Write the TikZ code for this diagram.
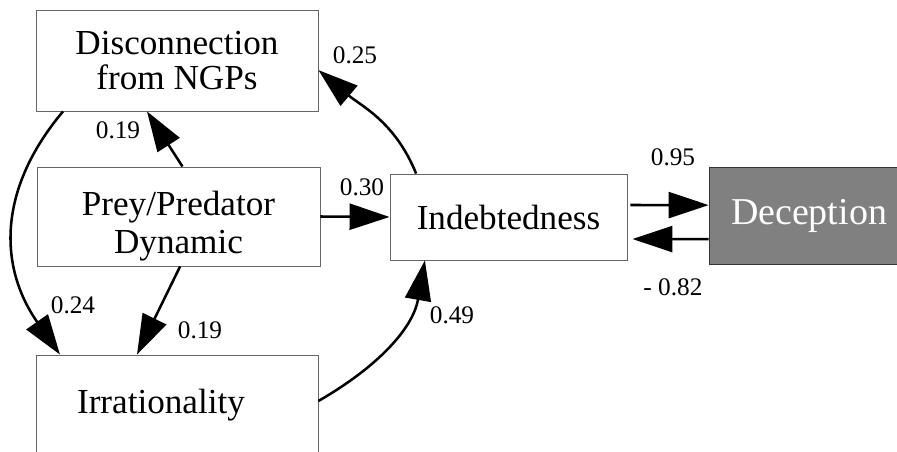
\documentclass[tikz,border=0pt]{standalone}
\usepackage{fontspec}
\setmainfont{Liberation Serif}
\usetikzlibrary{arrows.meta,positioning,calc}

\begin{document}
\begin{tikzpicture}[
    box/.style={draw=black!60,line width=0.6pt,inner sep=0pt,align=center,font=\fontsize{25}{25}\selectfont},
    arr/.style={-{Triangle[length=10mm,width=6.5mm]},line width=1.8pt},
    lbl/.style={inner sep=0pt,font=\fontsize{18}{18}\selectfont}
]
    \clip (0,0) rectangle (22.425,11.275);
    % boxes
    \node[box,minimum width=7.05cm,minimum height=2.525cm] (disc) at (4.425,9.7625) {Disconnection\\from NGPs};
    \node[box,font=\fontsize{25}{27}\selectfont,minimum width=7.075cm,minimum height=2.475cm] (prey) at (4.4625,5.8625) {\raisebox{0pt}[\dimexpr\height+5mm]{\begin{tabular}{@{}c@{}}Prey/Predator\\Dynamic\end{tabular}}};
    \node[box,minimum width=7.05cm,minimum height=2.5cm] (irr) at (4.425,1.15) {Irrationality\hspace*{0.8cm}};
    \node[box,minimum width=5.925cm,minimum height=2.15cm] (indeb) at (12.7125,5.85) {Indebtedness};
    \node[box,draw=black!80,fill=black!50,text=white,font=\fontsize{27}{27}\selectfont,minimum width=5cm,minimum height=2.425cm] (dec) at (20.225,5.8875) {Deception};
    % paths
    \draw[arr] ([xshift=1mm]prey.north) -- ([xshift=-7.5mm]disc.south);
    \draw[arr] (prey.east) -- (indeb.west);
    \draw[arr] ([xshift=0.4mm]prey.south) -- ([xshift=-10mm]irr.north);
    \draw[arr] ([xshift=-28.5mm]disc.south) to[out=230,in=125,looseness=1.1] ([xshift=-29.25mm]irr.north);
    \draw[arr] ([xshift=-23.1mm]indeb.north) to[out=112,in=-40] ([yshift=-2.4mm]disc.east);
    \draw[arr] ([yshift=1mm]irr.east) to[out=30,in=-100] ([xshift=-20.9mm]indeb.south);
    \draw[arr] ([xshift=0.75mm,yshift=3mm]indeb.east) -- ([yshift=2.6mm]dec.west);
    \draw[arr] ([yshift=-5.9mm]dec.west) -- ([xshift=1.25mm,yshift=-5.5mm]indeb.east);
    % weights
    \node[lbl] (w1) at (8.875,9.9) {0.25};
    \node[lbl] (w2) at (2.95,8.025) {0.19};
    \node[lbl] (w3) at (9.05,6.6) {0.30};
    \node[lbl] (w4) at (1.825,3.65) {0.24};
    \node[lbl] (w5) at (5.0,3.025) {0.19};
    \node[lbl] (w6) at (11.3,3.4) {0.49};
    \node[lbl] (w7) at (16.825,7.35) {0.95};
    \node[lbl] (w8) at (16.825,4.1) {- 0.82};
\end{tikzpicture}
\end{document}
